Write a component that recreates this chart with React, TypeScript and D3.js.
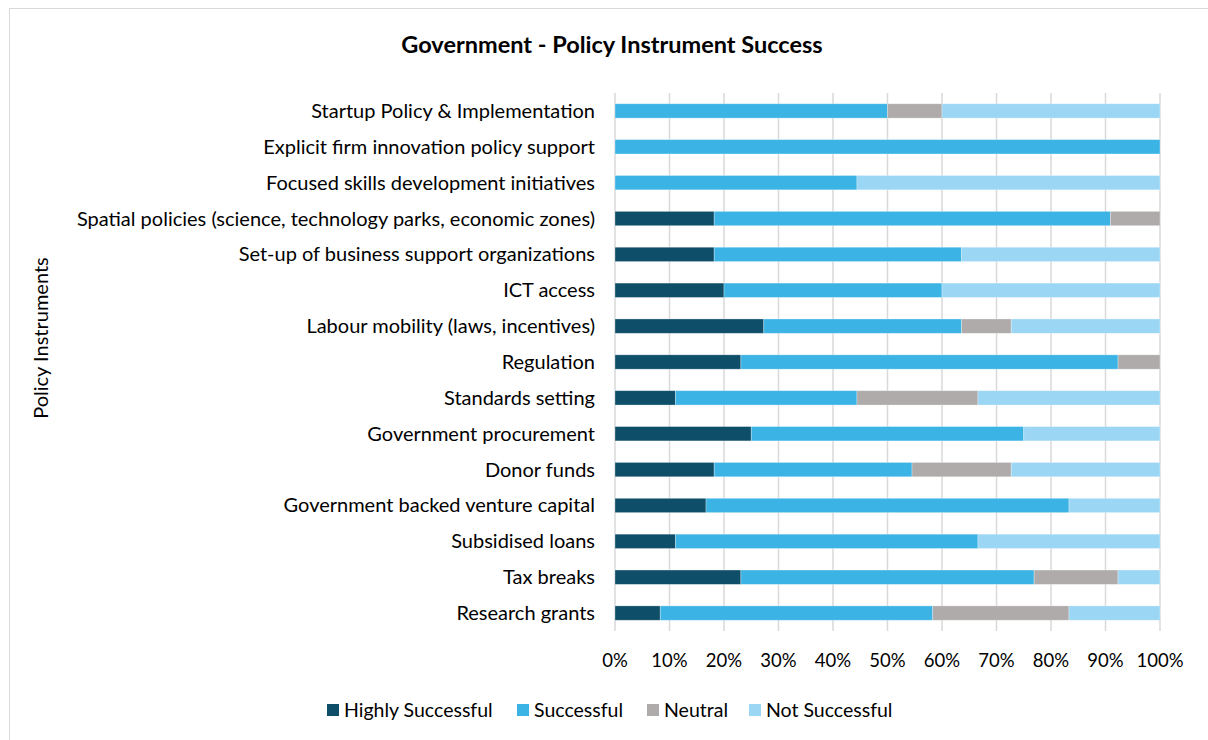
import React from 'react';
import * as d3 from 'd3';

// categories top to bottom, values in percent of respondents
const categories = [
    'Startup Policy & Implementation',
    'Explicit firm innovation policy support',
    'Focused skills development initiatives',
    'Spatial policies (science, technology parks, economic zones)',
    'Set-up of business support organizations',
    'ICT access',
    'Labour mobility (laws, incentives)',
    'Regulation',
    'Standards setting',
    'Government procurement',
    'Donor funds',
    'Government backed venture capital',
    'Subsidised loans',
    'Tax breaks',
    'Research grants',
];
const highlySuccessful = [0, 0, 0, 18.2, 18.2, 20, 27.3, 23.1, 11.1, 25, 18.2, 16.7, 11.1, 23.1, 8.3];
const successful = [50, 100, 44.4, 72.7, 45.4, 40, 36.3, 69.2, 33.3, 50, 36.3, 66.6, 55.5, 53.8, 50];
const neutral = [10, 0, 0, 9.1, 0, 0, 9.1, 7.7, 22.2, 0, 18.2, 0, 0, 15.4, 25];
const notSuccessful = [40, 0, 55.6, 0, 36.4, 40, 27.3, 0, 33.4, 25, 27.3, 16.7, 33.4, 7.7, 16.7];

const seriesNames = ['Highly Successful', 'Successful', 'Neutral', 'Not Successful'];
const colors = ['#0f4e68', '#3bb3e4', '#afabab', '#9bd6f4'];
const xTicks = [0, 0.1, 0.2, 0.3, 0.4, 0.5, 0.6, 0.7, 0.8, 0.9, 1];

const font = 'Lato, "Open Sans", sans-serif';

const App: React.FC = () => {
    const width = 1208;
    const height = 740;

    const rows = categories.map((c, i) => {
        const vals = [highlySuccessful[i], successful[i], neutral[i], notSuccessful[i]];
        const total = d3.sum(vals);
        return { name: c, vals: vals.map(v => v / total) };
    });

    const x = d3.scaleLinear().domain([0, 1]).range([615, 1160]);
    const y = d3.scaleBand().domain(categories).range([93, 631]).paddingInner(0.6).paddingOuter(0.3);
    const yc = (c: string) => (y(c) as number) + y.bandwidth() / 2;

    const stack = d3.stack<{ name: string; vals: number[] }, number>()
        .keys([0, 1, 2, 3])
        .value((d, k) => d.vals[k]);
    const layers = stack(rows);

    // legend positions
    const legendX = [327, 517, 647, 749];

    return (
        <svg width={width} height={height} style={{ position: 'absolute', left: 0, top: 0, background: '#fff' }}>
            <rect x={9.5} y={8.5} width={1300} height={800} fill="#fff" stroke="#d9d9d9" strokeWidth={1} />
            <text x={612} y={53} textAnchor="middle" fontFamily={font} fontWeight="bold" fontSize={23.5} fill="#000">
                Government - Policy Instrument Success
            </text>
            {xTicks.map(t => (
                <line key={t} x1={x(t)} x2={x(t)} y1={93} y2={631} stroke="#d9d9d9" strokeWidth={1.5} />
            ))}
            {layers.map((layer, k) => (
                <g key={k} fill={colors[k]}>
                    {layer.map(d => (
                        d[1] - d[0] > 0 ? (
                            <rect key={d.data.name} x={x(d[0])} width={x(d[1]) - x(d[0])}
                                y={y(d.data.name)} height={y.bandwidth()}
                                stroke="#ffffff" strokeOpacity={0.4} strokeWidth={0.75} />
                        ) : null
                    ))}
                </g>
            ))}
            {categories.map(c => (
                <text key={c} x={595} y={yc(c)} dy="0.35em" textAnchor="end" fontFamily={font} fontSize={20} fill="#000">
                    {c}
                </text>
            ))}
            {xTicks.map(t => (
                <text key={t} x={x(t)} y={667} textAnchor="middle" fontFamily={font} fontSize={18.5} fill="#000">
                    {d3.format('.0%')(t)}
                </text>
            ))}
            <text transform={`translate(48,338) rotate(-90)`} textAnchor="middle" fontFamily={font} fontSize={20} fill="#000">
                Policy Instruments
            </text>
            {seriesNames.map((s, k) => (
                <g key={s} transform={`translate(${legendX[k]},710)`}>
                    <rect x={0} y={-6} width={12} height={12} fill={colors[k]} />
                    <text x={17} y={0} dy="0.35em" fontFamily={font} fontSize={19.5} fill="#000">{s}</text>
                </g>
            ))}
        </svg>
    );
};

export default App;
